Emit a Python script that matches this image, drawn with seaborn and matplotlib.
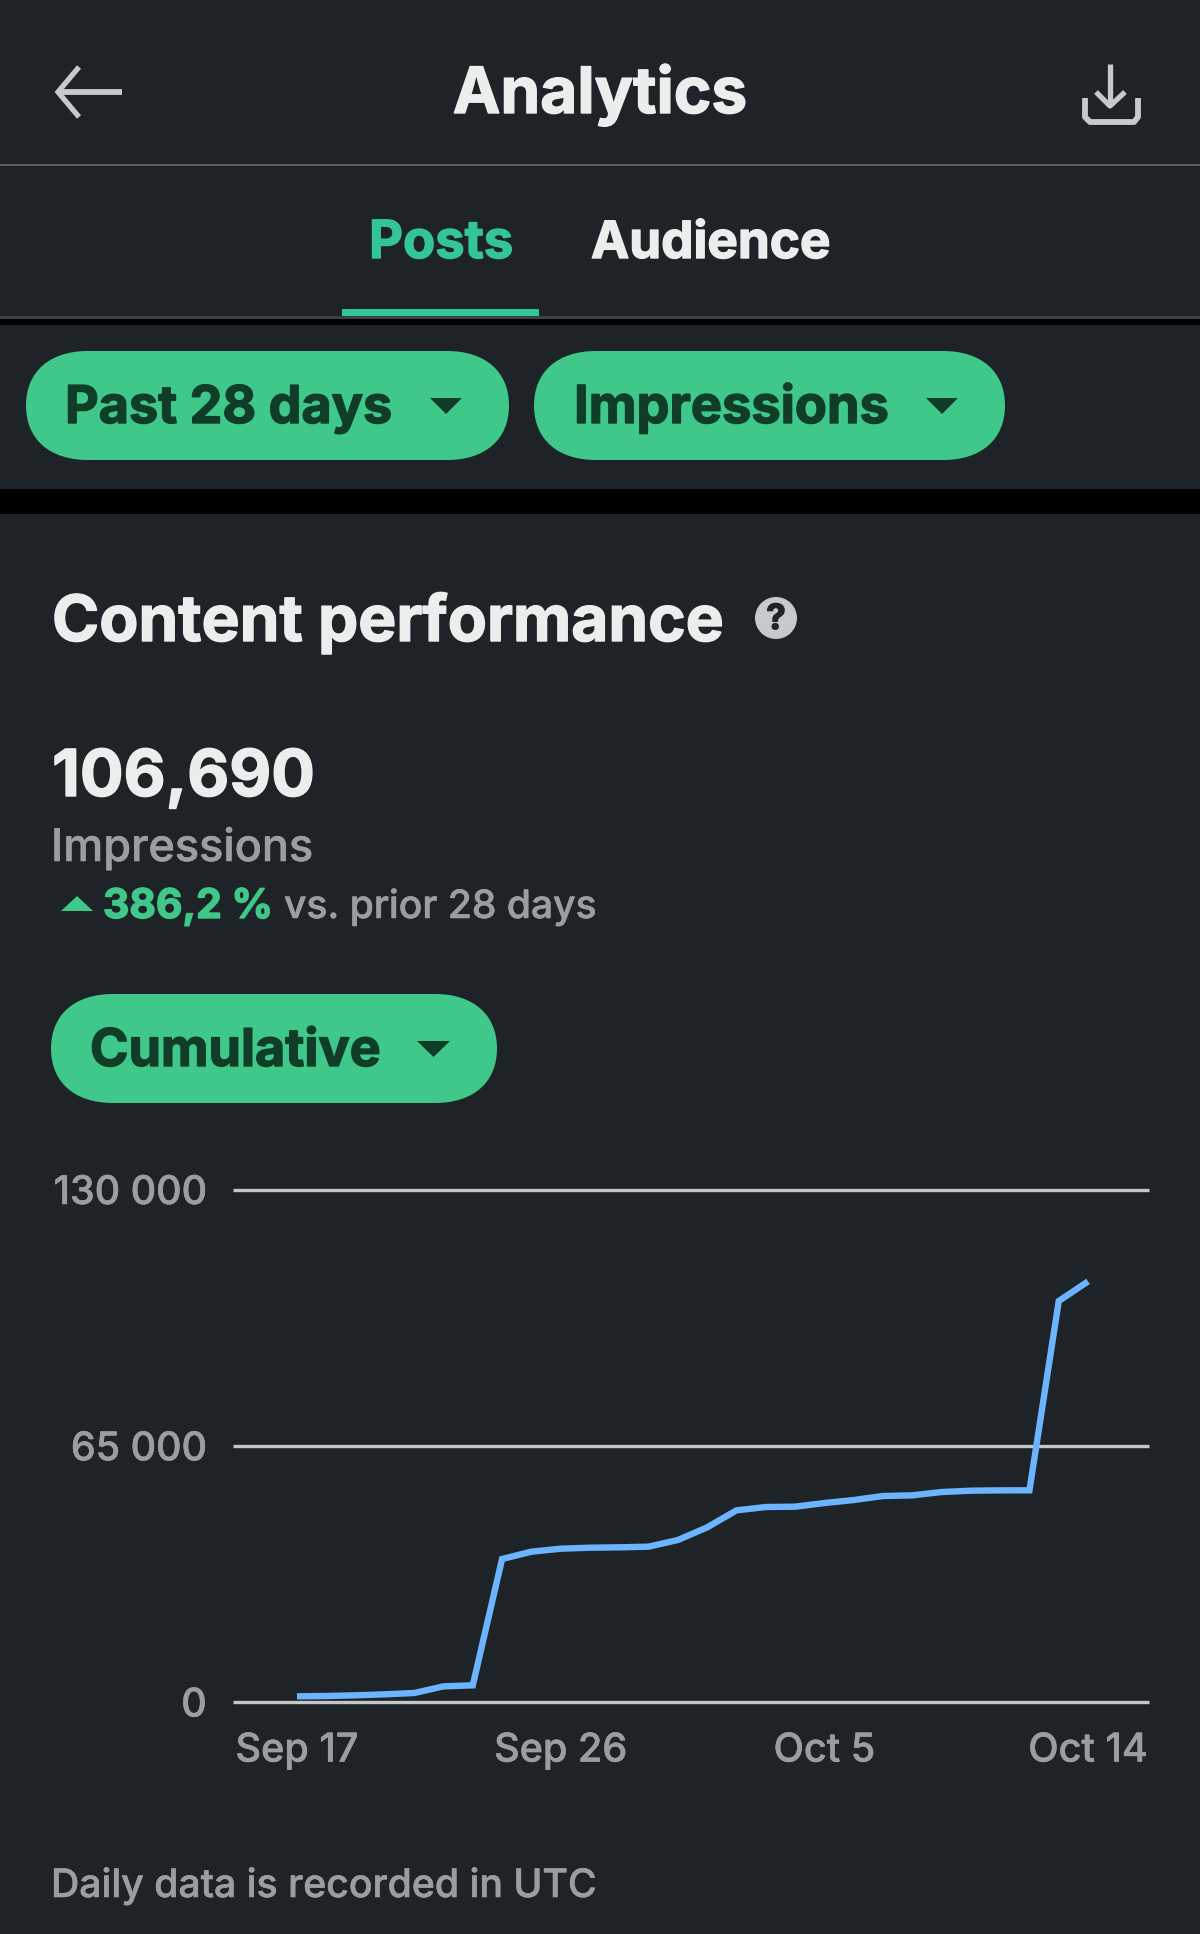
import matplotlib
matplotlib.use('Agg')
import matplotlib.pyplot as plt
from matplotlib.patches import Circle, PathPatch, Polygon, Rectangle
from matplotlib.path import Path
import matplotlib.patheffects as pe
import pandas as pd
import seaborn as sns

days = ['Sep 17', 'Sep 18', 'Sep 19', 'Sep 20', 'Sep 21', 'Sep 22', 'Sep 23',
        'Sep 24', 'Sep 25', 'Sep 26', 'Sep 27', 'Sep 28', 'Sep 29', 'Sep 30',
        'Oct 1', 'Oct 2', 'Oct 3', 'Oct 4', 'Oct 5', 'Oct 6', 'Oct 7',
        'Oct 8', 'Oct 9', 'Oct 10', 'Oct 11', 'Oct 12', 'Oct 13', 'Oct 14']
impressions = [1440, 1520, 1690, 1950, 2280, 3970, 4230,
               36270, 38130, 38890, 39140, 39230, 39400, 41090,
               44300, 48610, 49460, 49540, 50470, 51230, 52250,
               52420, 53260, 53600, 53680, 53700, 101700, 106690]
x_ticks = ['Sep 17', 'Sep 26', 'Oct 5', 'Oct 14']
y_ticks = [0, 65000, 130000]
y_tick_labels = ['0', '65 000', '130 000']

BG = '#1E2327'
GREEN = '#3FC88A'
TEAL = '#33C598'
DARK = '#0F3D27'
WHITE = '#ECEDED'
GRAY = '#9A9EA1'
ICON = '#C6CACB'
LINE = '#6CB4FF'
FONT = 'Inter'

W, H = 1200, 1934

sns.set_theme(style='dark')
plt.rcParams['font.family'] = [FONT, 'DejaVu Sans']

fig = plt.figure(figsize=(W / 100, H / 100), dpi=100, facecolor=BG)

# pixel canvas for the app chrome
ui = fig.add_axes([0, 0, 1, 1], zorder=0)
ui.set_xlim(0, W)
ui.set_ylim(H, 0)
ui.axis('off')


def label(x, y, s, size, color, weight='bold', ha='left', stroke=1.0):
    t = ui.text(x, y, s, fontsize=size, color=color, fontweight=weight, ha=ha, va='baseline')
    t.set_path_effects([pe.withStroke(linewidth=stroke, foreground=color)])


def pill(x0, x1, y0, y1):
    # squircle-ish ends, the app does not use plain round corners
    rx, ry = 62, (y1 - y0) / 2
    k = 0.62
    ym = (y0 + y1) / 2
    verts = [(x0 + rx, y0), (x1 - rx, y0),
             (x1 - rx + k * rx, y0), (x1, ym - k * ry), (x1, ym),
             (x1, ym + k * ry), (x1 - rx + k * rx, y1), (x1 - rx, y1),
             (x0 + rx, y1),
             (x0 + rx - k * rx, y1), (x0, ym + k * ry), (x0, ym),
             (x0, ym - k * ry), (x0 + rx - k * rx, y0), (x0 + rx, y0)]
    codes = [Path.MOVETO, Path.LINETO] + [Path.CURVE4] * 6 + [Path.LINETO] + [Path.CURVE4] * 6
    ui.add_patch(PathPatch(Path(verts, codes), fc=GREEN, ec='none'))


def tri(x0, x1, y0, y1, color, up=False):
    if up:
        pts = [(x0, y1), (x1, y1), ((x0 + x1) / 2, y0)]
    else:
        pts = [(x0, y0), (x1, y0), ((x0 + x1) / 2, y1)]
    ui.add_patch(Polygon(pts, closed=True, fc=color, ec='none'))


# bands and separators
ui.add_patch(Rectangle((0, 164), W, 1.6, fc='#5A5E61', ec='none'))
ui.add_patch(Rectangle((0, 316), W, 3, fc='#3C4044', ec='none'))
ui.add_patch(Rectangle((0, 319), W, 6, fc='black', ec='none'))
ui.add_patch(Rectangle((0, 489), W, 25, fc='black', ec='none'))
ui.add_patch(Rectangle((342, 309), 197, 7, fc=TEAL, ec='none'))

# back arrow
ui.plot([59, 122], [92, 92], color=ICON, lw=4.2, solid_capstyle='butt')
ui.plot([79, 58, 79], [67, 92, 117], color=ICON, lw=3.8, solid_joinstyle='miter', solid_capstyle='butt')

# download icon
ui.plot([1110, 1110], [64, 106], color=ICON, lw=3.8, solid_capstyle='butt')
ui.plot([1096, 1110, 1125], [92, 106, 92], color=ICON, lw=3.8, solid_capstyle='butt')
ui.plot([1085, 1085, 1090, 1134, 1138, 1138], [98, 117, 122, 122, 117, 98], color=ICON, lw=4.2,
        solid_joinstyle='round', solid_capstyle='butt')

label(600, 113, 'Analytics', 46, WHITE, ha='center')
label(369, 258, 'Posts', 37.8, TEAL)
label(591, 258, 'Audience', 36.9, WHITE)

pill(26, 509, 351, 460)
pill(534, 1005, 351, 460)
label(65, 423, 'Past 28 days', 37.5, DARK)
label(574, 423, 'Impressions', 37.7, DARK)
tri(430, 462, 398, 414, DARK)
tri(926, 958, 398, 414, DARK)

label(52, 641, 'Content performance', 46, WHITE)
ui.add_patch(Circle((776, 618), 21, fc=ICON, ec='none'))
label(776, 629, '?', 25, BG, ha='center')

label(52, 796, '106,690', 46.6, WHITE)
label(51, 861, 'Impressions', 32.4, GRAY, weight='medium', stroke=0.4)
tri(61, 93, 896, 911, GREEN, up=True)
label(103, 918, '386,2 %', 29.4, GREEN)
label(284, 918, 'vs. prior 28 days', 28.1, GRAY, weight='medium', stroke=0.4)

pill(51, 497, 994, 1103)
label(90, 1066, 'Cumulative', 37.5, DARK)
tri(417, 450, 1041, 1057, DARK)

label(51, 1897, 'Daily data is recorded in UTC', 28.2, GRAY, weight='medium', stroke=0.4)

# the chart itself
df = pd.DataFrame({'day': days, 'impressions': impressions})

left, right, top, bottom = 233, 1149, 1189.5, 1702
ax = fig.add_axes([left / W, 1 - bottom / H, (right - left) / W, (bottom - top) / H], zorder=1)
ax.patch.set_alpha(0)
ax.grid(False)
for yt in y_ticks:
    ax.axhline(yt, color='#C4C7C7', lw=2.4, zorder=1, clip_on=False, solid_capstyle='butt')
sns.lineplot(data=df, x='day', y='impressions', sort=False, color=LINE, linewidth=4.6, ax=ax, zorder=3)
data_line = ax.lines[-1]
data_line.set_linewidth(4.6)
data_line.set_solid_capstyle('butt')
data_line.set_solid_joinstyle('miter')

ax.set_xlim(-2.184, 29.08)
ax.set_ylim(0, 130000)
ax.set_xticks(x_ticks)
ax.set_yticks(y_ticks, y_tick_labels)
ax.set_xlabel('')
ax.set_ylabel('')
ax.tick_params(axis='x', length=0, pad=22, labelsize=28.5, labelcolor=GRAY)
ax.tick_params(axis='y', length=0, pad=19, labelsize=28.4, labelcolor=GRAY)
for t in ax.get_xticklabels() + ax.get_yticklabels():
    t.set_fontweight('medium')
    t.set_path_effects([pe.withStroke(linewidth=0.4, foreground=GRAY)])
sns.despine(ax=ax, left=True, bottom=True, top=True, right=True)

fig.savefig('out.png', dpi=100, facecolor=BG)
